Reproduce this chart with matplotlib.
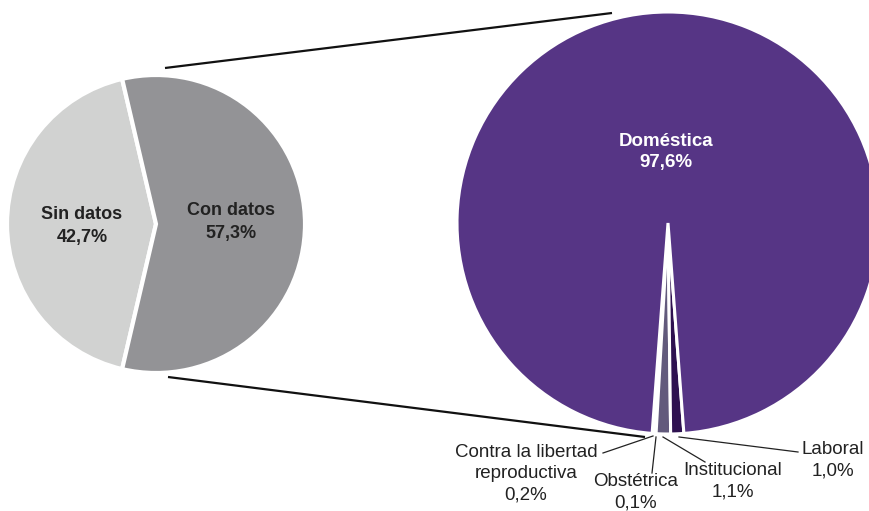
import matplotlib
matplotlib.use("Agg")
import matplotlib.pyplot as plt

plt.rcParams['font.family'] = ['Liberation Sans', 'DejaVu Sans']

# Data
left_labels = ["Sin datos", "Con datos"]
left_values = [42.7, 57.3]
left_colors = ["#d1d2d1", "#939396"]

right_labels = ["Contra la libertad\nreproductiva", "Obstétrica", "Institucional", "Laboral", "Doméstica"]
right_values = [0.2, 0.1, 1.1, 1.0, 97.6]
right_colors = ["#3a1f5e", "#8a7fa6", "#625a7c", "#2e1150", "#563585"]

W, H = 870, 511
fig = plt.figure(figsize=(W / 100, H / 100), dpi=100)
ax = fig.add_axes([0, 0, 1, 1])

def Y(y):
    return H - y

# Left pie
lc = (156, Y(224)); lr = 149
sin_share = left_values[0] / sum(left_values) * 360
ax.pie(left_values, colors=left_colors, startangle=180 - sin_share / 2,
       center=lc, radius=lr, counterclock=True,
       wedgeprops=dict(edgecolor="white", linewidth=3))

# Right pie
rc = (668, Y(223)); rr = 211
small = sum(right_values[:4]) / sum(right_values) * 360
ax.pie(right_values, colors=right_colors, startangle=270 - small / 2,
       center=rc, radius=rr, counterclock=True,
       wedgeprops=dict(edgecolor="white", linewidth=2.2))

# Connector lines
ax.plot([165, 612], [Y(68), Y(13)], color="#111111", lw=1.6, solid_capstyle="butt")
ax.plot([168, 645], [Y(377), Y(437)], color="#111111", lw=1.6, solid_capstyle="butt")

# Left labels
ax.text(82, Y(226), f"{left_labels[0]}\n{left_values[0]:.1f}%".replace(".", ","),
        ha="center", va="center", fontsize=13, fontweight="bold", color="#222222",
        linespacing=1.5)
ax.text(231, Y(222), f"{left_labels[1]}\n{left_values[1]:.1f}%".replace(".", ","),
        ha="center", va="center", fontsize=13, fontweight="bold", color="#222222",
        linespacing=1.5)

# Right main label
ax.text(666, Y(152), f"{right_labels[4]}\n{right_values[4]:.1f}%".replace(".", ","),
        ha="center", va="center", fontsize=13.5, fontweight="bold", color="white",
        linespacing=1.32)

# Small slice labels
lab_pos = [(526, 474), (636, 492), (733, 481), (833, 460)]
for lbl, val, (x, y) in zip(right_labels[:4], right_values[:4], lab_pos):
    ax.text(x, Y(y), f"{lbl}\n{val:.1f}%".replace(".", ","), ha="center", va="center",
            fontsize=13.5, color="#222222", linespacing=1.32)

# Leader lines
leaders = [((603, 453), (653, 436)),
           ((652, 473), (656, 437)),
           ((705, 462), (663, 437)),
           ((798, 452), (679, 437))]
for (x0, y0), (x1, y1) in leaders:
    ax.plot([x0, x1], [Y(y0), Y(y1)], color="#222222", lw=0.9)

ax.set_xlim(0, W)
ax.set_ylim(0, H)
ax.set_aspect("equal")
ax.axis("off")
fig.savefig("out.png", dpi=100)
